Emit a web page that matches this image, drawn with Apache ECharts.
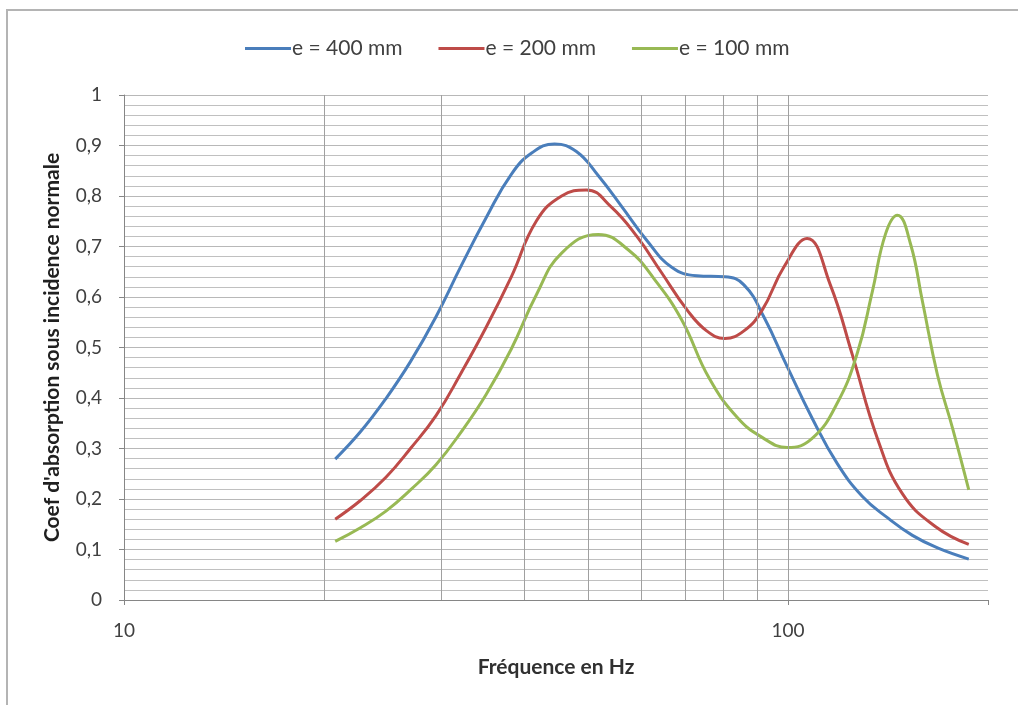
<!DOCTYPE html>
<html>
<head>
<meta charset="utf-8">
<script src="https://cdn.jsdelivr.net/npm/echarts@6/dist/echarts.min.js"></script>
<style>
html,body{margin:0;padding:0;background:#fff;}
#chart{width:1018px;height:705px;}
</style>
</head>
<body>
<div id="chart"></div>
<script>
// Series names
const seriesNames = ['e = 400 mm', 'e = 200 mm', 'e = 100 mm'];

// e = 400 mm
const freq400 = [20.8, 22.7, 24.8, 27.0, 29.5, 32.2, 35.1, 38.3, 41.2, 44.5, 48.0, 51.8, 56.1, 61.2, 66.8, 72.9, 80.3, 85.8, 92.0, 99.7, 108.7, 118.6, 129.4, 141.1, 153.9, 167.9, 187.1];
const val400  = [0.279, 0.333, 0.399, 0.472, 0.561, 0.662, 0.757, 0.843, 0.886, 0.903, 0.888, 0.840, 0.780, 0.713, 0.659, 0.642, 0.640, 0.624, 0.560, 0.462, 0.360, 0.270, 0.205, 0.163, 0.128, 0.103, 0.081];

// e = 200 mm
const freq200 = [20.8, 22.7, 24.8, 27.0, 29.5, 32.2, 35.1, 38.3, 41.8, 45.6, 49.7, 54.2, 59.2, 64.5, 70.4, 75.4, 80.3, 85.8, 91.4, 98.6, 106.8, 115.7, 125.0, 136.3, 148.7, 166.8, 187.1];
const val200  = [0.160, 0.197, 0.243, 0.300, 0.365, 0.450, 0.540, 0.640, 0.751, 0.800, 0.812, 0.778, 0.720, 0.648, 0.575, 0.533, 0.518, 0.533, 0.574, 0.660, 0.716, 0.625, 0.485, 0.320, 0.210, 0.145, 0.110];

// e = 100 mm
const freq100 = [20.8, 22.7, 24.8, 27.0, 29.5, 32.2, 35.1, 38.3, 41.8, 45.6, 51.8, 57.5, 63.0, 69.2, 76.0, 83.8, 91.4, 99.7, 108.7, 118.6, 127.2, 133.9, 140.2, 146.1, 152.9, 159.4, 167.9, 176.9, 187.1];
const val100  = [0.116, 0.143, 0.176, 0.218, 0.268, 0.333, 0.407, 0.497, 0.605, 0.687, 0.724, 0.693, 0.634, 0.554, 0.440, 0.362, 0.322, 0.302, 0.320, 0.390, 0.490, 0.610, 0.725, 0.762, 0.705, 0.590, 0.445, 0.340, 0.218];

// Vertical minor gridlines (frequencies)
const vGridFreqs = [20, 30, 40, 50, 60, 70, 80, 90, 100];

// Axis settings
const xMin = 10, xMax = 200;
const yMin = 0, yMax = 1, yStep = 0.1;

const colors = ['#4A7EBB', '#BE4B48', '#98B954'];
const zip = (xs, ys) => xs.map((x, i) => [x, ys[i]]);
const font = 'Lato, "Open Sans", sans-serif';

const chart = echarts.init(document.getElementById('chart'), null, {renderer: 'canvas'});

chart.setOption({
  animation: false,
  backgroundColor: '#ffffff',
  color: colors,
  graphic: [{
    type: 'rect',
    shape: {x: 7, y: 10, width: 1200, height: 1200},
    style: {fill: 'none', stroke: '#b4b4b4', lineWidth: 2},
    silent: true,
    z: -10
  }],
  legend: {
    top: 33,
    left: 240,
    itemWidth: 46,
    itemHeight: 12,
    itemGap: 36,
    icon: 'path://M0,5 L46,5 L46,8 L0,8 Z',
    textStyle: {fontFamily: font, fontSize: 21, color: '#404040', padding: [0, 0, 0, -4]},
    data: seriesNames
  },
  grid: {left: 124, top: 95, right: 30, bottom: 105, containLabel: false},
  xAxis: {
    type: 'log',
    logBase: 10,
    min: xMin,
    max: xMax,
    name: 'Fréquence en Hz',
    nameLocation: 'middle',
    nameGap: 57,
    nameTextStyle: {fontFamily: font, fontSize: 21, fontWeight: 'bold', color: '#303030'},
    axisLine: {show: true, lineStyle: {color: '#868686', width: 1}},
    axisTick: {show: true, length: 5, lineStyle: {color: '#868686'}},
    axisLabel: {
      fontFamily: font, fontSize: 19, color: '#404040', margin: 21,
      formatter: function (v) {
        const l = Math.log10(v);
        return Math.abs(l - Math.round(l)) < 1e-6 ? String(Math.round(v)) : '';
      }
    },
    splitLine: {show: false},
    minorTick: {show: false},
    minorSplitLine: {show: false}
  },
  yAxis: {
    type: 'value',
    min: yMin,
    max: yMax,
    interval: yStep,
    name: "Coef d'absorption sous incidence normale",
    nameLocation: 'middle',
    nameGap: 61,
    nameTextStyle: {fontFamily: font, fontSize: 21, fontWeight: 'bold', color: '#202020'},
    axisLine: {show: true, lineStyle: {color: '#868686', width: 1}},
    axisTick: {show: true, length: 5, inside: false, lineStyle: {color: '#868686'}},
    axisLabel: {
      fontFamily: font, fontSize: 19, color: '#404040', margin: 22,
      formatter: function (v) { return String(Math.round(v * 10) / 10).replace('.', ','); }
    },
    splitLine: {show: true, lineStyle: {color: '#b8b8b8', width: 1}},
    minorTick: {show: false, splitNumber: 5},
    minorSplitLine: {show: true, lineStyle: {color: '#c0c0c0', width: 1}}
  },
  series: [
    {
      name: '__vgrid',
      type: 'line',
      data: [],
      silent: true,
      z: 1,
      markLine: {
        silent: true,
        symbol: ['none', 'none'],
        label: {show: false},
        lineStyle: {color: '#a0a0a0', width: 1, type: 'solid'},
        emphasis: {disabled: true},
        data: vGridFreqs.map(f => ({xAxis: f}))
      }
    },
    {
      name: seriesNames[0], type: 'line', smooth: 0.45, symbol: 'none',
      lineStyle: {width: 3, color: colors[0]}, itemStyle: {color: colors[0]},
      data: zip(freq400, val400), z: 3
    },
    {
      name: seriesNames[1], type: 'line', smooth: 0.45, symbol: 'none',
      lineStyle: {width: 3, color: colors[1]}, itemStyle: {color: colors[1]},
      data: zip(freq200, val200), z: 3
    },
    {
      name: seriesNames[2], type: 'line', smooth: 0.45, symbol: 'none',
      lineStyle: {width: 3, color: colors[2]}, itemStyle: {color: colors[2]},
      data: zip(freq100, val100), z: 3
    }
  ]
});
</script>
</body>
</html>
